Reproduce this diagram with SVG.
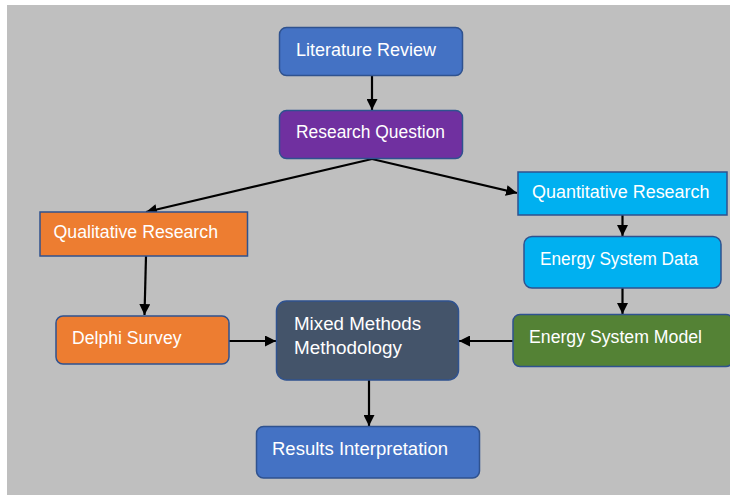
<svg xmlns="http://www.w3.org/2000/svg" width="730" height="495" viewBox="0 0 730 495">
  <defs>
    <marker id="arrow" viewBox="0 0 10 10" refX="10" refY="5" markerWidth="5" markerHeight="5" markerUnits="strokeWidth" orient="auto">
      <path d="M0,0 L10,5 L0,10 Z" fill="#000"/>
    </marker>
  </defs>
  <style>
    .box { stroke: #2F528F; stroke-width: 1.5; }
    .label { font-family: "Liberation Sans", Arial, sans-serif; font-size: 17.5px; fill: #FFFFFF; }
    .edge { stroke: #000; stroke-width: 2.2; fill: none; marker-end: url(#arrow); }
  </style>

  <!-- canvas -->
  <rect x="7" y="5" width="723" height="490" fill="#BFBFBF"/>

  <!-- connectors -->
  <g id="connectors">
    <line class="edge" x1="372" y1="76" x2="372" y2="110"/>
    <line class="edge" x1="372" y1="159" x2="146" y2="212"/>
    <line class="edge" x1="372" y1="159" x2="517" y2="193"/>
    <line class="edge" x1="146" y1="256" x2="144.5" y2="315"/>
    <line class="edge" x1="622.5" y1="215" x2="622.5" y2="236"/>
    <line class="edge" x1="622.5" y1="288" x2="622.5" y2="314"/>
    <line class="edge" x1="229" y1="341" x2="276" y2="341"/>
    <line class="edge" x1="513" y1="341" x2="459" y2="341"/>
    <line class="edge" x1="369" y1="380" x2="369" y2="426"/>
  </g>

  <g id="literature-review">
    <rect class="box" x="279.5" y="27.5" width="183" height="48" rx="7" fill="#4472C4"/>
    <text class="label" x="296" y="56" textLength="140" lengthAdjust="spacingAndGlyphs">Literature Review</text>
  </g>

  <g id="research-question">
    <rect class="box" x="279.5" y="110.5" width="183" height="48" rx="7" fill="#7030A0"/>
    <text class="label" x="296" y="138" textLength="149" lengthAdjust="spacingAndGlyphs">Research Question</text>
  </g>

  <g id="qualitative-research">
    <rect class="box" x="40" y="212" width="207.5" height="44" fill="#ED7D31"/>
    <text class="label" x="53.5" y="237.5" textLength="164.5" lengthAdjust="spacingAndGlyphs">Qualitative Research</text>
  </g>

  <g id="quantitative-research">
    <rect class="box" x="518" y="172" width="209" height="43" fill="#00B0F0"/>
    <text class="label" x="532" y="197.5" textLength="177.5" lengthAdjust="spacingAndGlyphs">Quantitative Research</text>
  </g>

  <g id="energy-system-data">
    <rect class="box" x="524" y="236.5" width="197" height="51.5" rx="8" fill="#00B0F0"/>
    <text class="label" x="540" y="264.5" textLength="158" lengthAdjust="spacingAndGlyphs">Energy System Data</text>
  </g>

  <g id="delphi-survey">
    <rect class="box" x="56" y="316" width="173" height="48" rx="7" fill="#ED7D31"/>
    <text class="label" x="72" y="344" textLength="109.5" lengthAdjust="spacingAndGlyphs">Delphi Survey</text>
  </g>

  <g id="mixed-methods-methodology">
    <rect class="box" x="276.5" y="301" width="182" height="79" rx="10" fill="#44546A"/>
    <text class="label" x="294" y="329.5" textLength="127" lengthAdjust="spacingAndGlyphs">Mixed Methods</text>
    <text class="label" x="294" y="354" textLength="108" lengthAdjust="spacingAndGlyphs">Methodology</text>
  </g>

  <g id="energy-system-model">
    <rect class="box" x="513" y="314.5" width="220" height="52" rx="7" fill="#548235"/>
    <text class="label" x="529" y="342.5" textLength="173" lengthAdjust="spacingAndGlyphs">Energy System Model</text>
  </g>

  <g id="results-interpretation">
    <rect class="box" x="256.5" y="426.5" width="223" height="51.5" rx="7" fill="#4472C4"/>
    <text class="label" x="272" y="455" textLength="176" lengthAdjust="spacingAndGlyphs">Results Interpretation</text>
  </g>
</svg>
